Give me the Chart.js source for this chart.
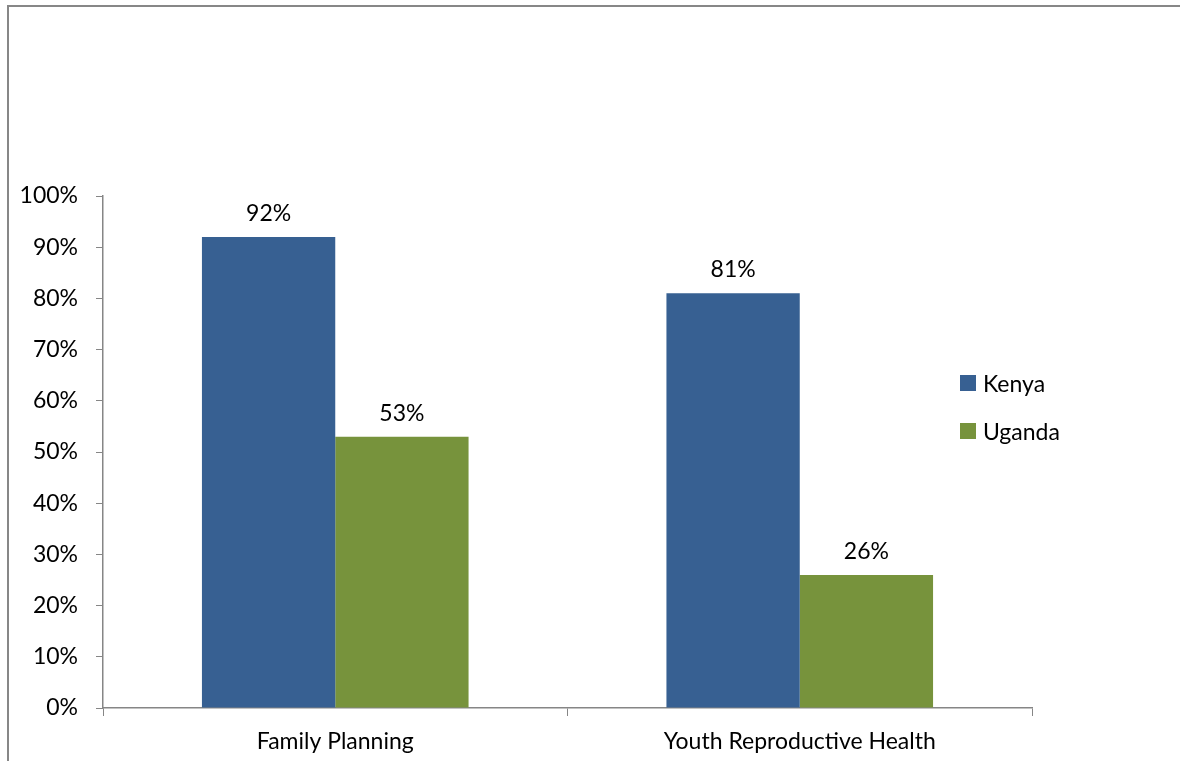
<!DOCTYPE html>
<html lang="en">
<head>
    <meta charset="UTF-8">
    <title>Family Planning vs Youth Reproductive Health</title>
    <style>
        body {
            margin: 0;
            padding: 0;
            background-color: #fff;
            font-family: Lato, sans-serif;
        }
        .wrap {
            position: relative;
            width: 1180px;
            height: 761px;
            overflow: hidden;
        }
        /* outer frame: top and left edge only */
        .frame {
            position: absolute;
            left: 7px;
            top: 5px;
            width: 1200px;
            height: 800px;
            border-top: 2px solid #878787;
            border-left: 2px solid #878787;
        }
        canvas {
            position: absolute;
            left: 0;
            top: 0;
        }
        /* legend sits to the right of the plot */
        #legend {
            position: absolute;
            left: 960px;
            top: 366px;
            font-size: 23px;
            color: #000;
        }
        #legend .item {
            display: flex;
            align-items: center;
            height: 34px;
            margin-bottom: 14px;
        }
        #legend .box {
            width: 16px;
            height: 16px;
            margin-right: 7px;
        }
    </style>
    <script src="https://cdn.jsdelivr.net/npm/chart.js"></script>
</head>
<body>
    <div class="wrap">
        <div class="frame"></div>
        <canvas id="chart" width="1180" height="761"></canvas>
        <div id="legend"></div>
    </div>

    <script>
        // chart data
        const categories = ['Family Planning', 'Youth Reproductive Health'];
        const kenya = [92, 81];
        const uganda = [53, 26];
        const seriesNames = ['Kenya', 'Uganda'];
        const yTicks = [0, 10, 20, 30, 40, 50, 60, 70, 80, 90, 100];

        const axisColor = '#868686';
        const textColor = '#000';
        const fontFamily = 'Lato, sans-serif';
        const fontSize = 23;

        // value labels above each bar
        const valueLabels = {
            id: 'valueLabels',
            afterDatasetsDraw(chart) {
                const ctx = chart.ctx;
                ctx.save();
                ctx.font = fontSize + 'px ' + fontFamily;
                ctx.fillStyle = textColor;
                ctx.textAlign = 'center';
                ctx.textBaseline = 'bottom';
                chart.data.datasets.forEach((ds, i) => {
                    chart.getDatasetMeta(i).data.forEach((bar, j) => {
                        ctx.fillText(ds.data[j] + '%', bar.x, bar.y - 12);
                    });
                });
                ctx.restore();
            }
        };

        const chart = new Chart(document.getElementById('chart').getContext('2d'), {
            type: 'bar',
            data: {
                labels: categories,
                datasets: [
                    {
                        label: seriesNames[0],
                        data: kenya,
                        backgroundColor: '#376092',
                        categoryPercentage: 0.574,
                        barPercentage: 1.0
                    },
                    {
                        label: seriesNames[1],
                        data: uganda,
                        backgroundColor: '#77933c',
                        categoryPercentage: 0.574,
                        barPercentage: 1.0
                    }
                ]
            },
            options: {
                responsive: false,
                animation: false,
                layout: {
                    padding: { top: 196, bottom: 0, left: 0, right: 148 }
                },
                plugins: {
                    tooltip: { enabled: false },
                    legend: { display: false }
                },
                scales: {
                    x: {
                        grid: {
                            offset: true,
                            drawOnChartArea: false,
                            drawTicks: true,
                            tickLength: 8,
                            color: axisColor
                        },
                        border: { color: axisColor, width: 1.5 },
                        ticks: {
                            color: textColor,
                            font: { family: fontFamily, size: fontSize },
                            padding: 12
                        },
                        afterFit(scale) { scale.height = 53; }
                    },
                    y: {
                        min: 0,
                        max: 100,
                        afterBuildTicks(scale) {
                            scale.ticks = yTicks.map(v => ({ value: v }));
                        },
                        grid: {
                            drawOnChartArea: false,
                            drawTicks: true,
                            tickLength: 7,
                            color: axisColor
                        },
                        border: { color: axisColor, width: 1.5 },
                        ticks: {
                            color: textColor,
                            font: { family: fontFamily, size: fontSize },
                            padding: 18,
                            callback: v => v + '%'
                        },
                        afterFit(scale) { scale.width = 103; }
                    }
                }
            },
            plugins: [valueLabels]
        });

        // HTML legend built from the datasets
        const legendEl = document.getElementById('legend');
        chart.data.datasets.forEach(ds => {
            const item = document.createElement('div');
            item.className = 'item';
            item.innerHTML = '<span class="box" style="background:' + ds.backgroundColor + '"></span>' + ds.label;
            legendEl.appendChild(item);
        });
    </script>
</body>
</html>
